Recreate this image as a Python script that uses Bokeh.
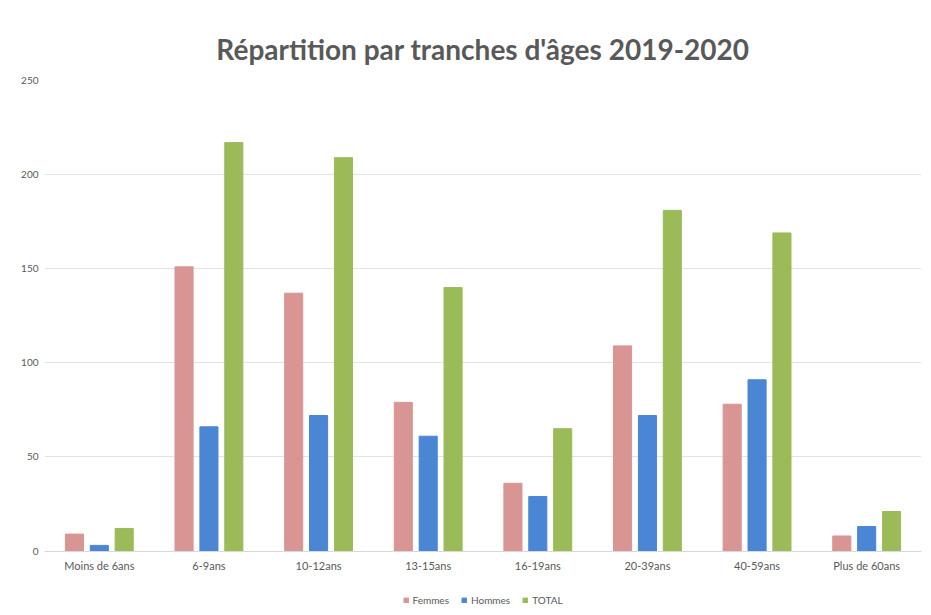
from bokeh.plotting import figure
from bokeh.models import ColumnDataSource, FactorRange, Range1d, Legend, LegendItem, FixedTicker
from bokeh.transform import dodge
from bokeh.embed import file_html
from bokeh.resources import INLINE

categories = ["Moins de 6ans", "6-9ans", "10-12ans", "13-15ans", "16-19ans", "20-39ans", "40-59ans", "Plus de 60ans"]
femmes = [9, 151, 137, 79, 36, 109, 78, 8]
hommes = [3, 66, 72, 61, 29, 72, 91, 13]
total = [12, 217, 209, 140, 65, 181, 169, 21]
y_ticks = [0, 50, 100, 150, 200, 250]

src = ColumnDataSource(dict(cat=categories, femmes=femmes, hommes=hommes, total=total))

p = figure(x_range=FactorRange(*categories), y_range=Range1d(-30, 250),
           frame_width=877, frame_height=527, output_backend="svg", toolbar_location=None,
           title="Répartition par tranches d'âges 2019-2020")
p.min_border_left = 44
p.min_border_right = 2
p.min_border_top = 80
p.min_border_bottom = 0
p.outline_line_color = None

p.title.align = "center"
p.title.text_font = "Lato"
p.title.text_font_style = "bold"
p.title.text_font_size = "28px"
p.title.text_color = "#595959"
p.title.standoff = 30

bw = 0.165
r1 = p.vbar(x=dodge("cat", -0.227, range=p.x_range), top="femmes", width=bw, source=src, color="#D99594")
r2 = p.vbar(x=dodge("cat", 0.0, range=p.x_range), top="hommes", width=bw, source=src, color="#4A86D4")
r3 = p.vbar(x=dodge("cat", 0.227, range=p.x_range), top="total", width=bw, source=src, color="#9BBB59")

p.yaxis.ticker = FixedTicker(ticks=y_ticks)
p.yaxis.axis_line_color = None
p.yaxis.major_tick_line_color = None
p.yaxis.minor_tick_line_color = None
p.yaxis.major_label_text_font = "Lato"
p.yaxis.major_label_text_font_size = "10px"
p.yaxis.major_label_text_color = "#595959"
p.yaxis.major_label_standoff = 0

p.xaxis.fixed_location = 0
p.xaxis.axis_line_color = "#D9D9D9"
p.xaxis.major_tick_line_color = None
p.xaxis.minor_tick_line_color = None
p.xaxis.major_label_text_font = "Lato"
p.xaxis.major_label_text_font_size = "11px"
p.xaxis.major_label_text_color = "#595959"
p.xaxis.major_label_standoff = 2

p.xgrid.grid_line_color = None
p.ygrid.ticker = FixedTicker(ticks=y_ticks)
p.ygrid.grid_line_color = "#E3E3E3"

legend = Legend(items=[LegendItem(label="Femmes", renderers=[r1]),
                       LegendItem(label="Hommes", renderers=[r2]),
                       LegendItem(label="TOTAL", renderers=[r3])],
                orientation="horizontal", location="bottom_center",
                label_text_font="Lato", label_text_font_size="10px", label_text_color="#595959",
                label_height=10, glyph_width=6, glyph_height=6, spacing=12, label_standoff=4,
                border_line_color=None, background_fill_alpha=0, padding=1, margin=1)
p.add_layout(legend, "center")

open("out.html", "w").write(file_html(p, INLINE))
